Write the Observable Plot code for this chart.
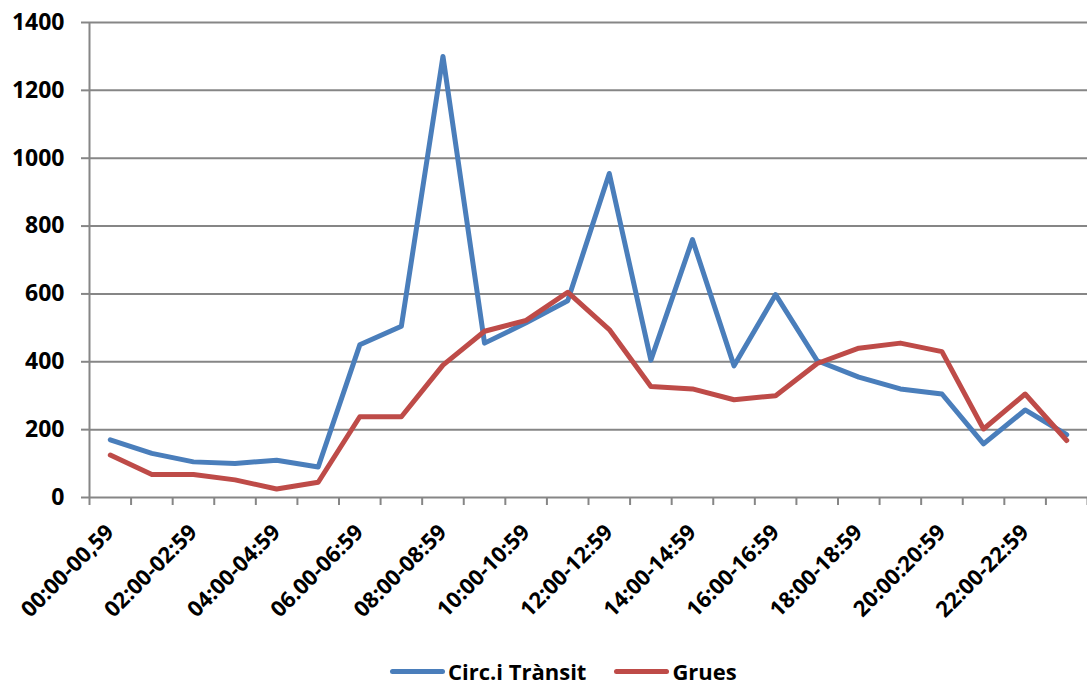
<!DOCTYPE html>
<html>
<head>
<meta charset="utf-8">
<script src="https://cdn.jsdelivr.net/npm/d3@7"></script>
<script src="https://cdn.jsdelivr.net/npm/@observablehq/plot@0.6"></script>
<style>
  html, body { margin: 0; padding: 0; background: #fff; overflow: hidden; }
  #wrap { position: relative; width: 1087px; height: 686px; font-family: "Open Sans", sans-serif; }
  #legend { position: absolute; left: 390px; top: 661px; height: 20px; display: flex; align-items: center; font-weight: bold; font-size: 22px; line-height: 20px; color: #000; }
  .item { display: flex; align-items: center; margin-right: 28px; }
  .sw { width: 55px; height: 5px; border-radius: 3px; margin-right: 3px; }
</style>
</head>
<body>
<div id="wrap"><div id="chart"></div><div id="legend"></div></div>
<script>
const hours = [
  "00:00-00,59", "01:00-01:59", "02:00-02:59", "03:00-03:59",
  "04:00-04:59", "05:00-05:59", "06.00-06:59", "07:00-07:59",
  "08:00-08:59", "09:00-09:59", "10:00-10:59", "11:00-11:59",
  "12:00-12:59", "13:00-13:59", "14:00-14:59", "15:00-15:59",
  "16:00-16:59", "17:00-17:59", "18:00-18:59", "19:00-19:59",
  "20:00:20:59", "21:00-21:59", "22:00-22:59", "23:00-23:59"
];
const transit = [170, 130, 105, 100, 110, 90, 450, 505, 1300, 455, 515, 580,
                 955, 405, 760, 388, 598, 403, 355, 320, 305, 158, 258, 185];
const grues = [125, 68, 68, 52, 25, 45, 238, 238, 390, 490, 522, 605,
               495, 327, 320, 288, 300, 395, 440, 455, 430, 202, 305, 168];
const seriesNames = ["Circ.i Trànsit", "Grues"];
const seriesColors = ["#4a7ebb", "#be4b48"];
const yTicks = [0, 200, 400, 600, 800, 1000, 1200, 1400];

const seriesValues = [transit, grues];
const rows = seriesNames.flatMap((name, s) =>
  seriesValues[s].map((v, i) => ({serie: name, i, hour: hours[i], v})));

const boundaries = d3.range(hours.length + 1);
const labelPos = d3.range(0, hours.length, 2).map(i => i + 0.5);

const chart = Plot.plot({
  width: 1087,
  height: 662,
  marginLeft: 89,
  marginRight: 0,
  marginTop: 22,
  marginBottom: 165,
  style: {fontFamily: "Open Sans, sans-serif", color: "#000", background: "#fff"},
  x: {domain: [0, hours.length], axis: null},
  y: {domain: [0, 1400], axis: null},
  color: {domain: seriesNames, range: seriesColors},
  marks: [
    Plot.ruleY(yTicks, {stroke: "#868686", strokeWidth: 2, strokeOpacity: 1}),
    Plot.ruleX([0], {stroke: "#868686", strokeWidth: 2, strokeOpacity: 1}),
    Plot.axisY(yTicks, {label: null, tickSize: 8, tickPadding: 17, stroke: "#868686", strokeWidth: 2, strokeOpacity: 1,
      fontSize: 23, fontWeight: "bold", fill: "#000", tickFormat: d => String(d)}),
    Plot.axisX(boundaries, {label: null, tickSize: 8, stroke: "#868686", strokeWidth: 2, strokeOpacity: 1, tickFormat: () => ""}),
    Plot.axisX(labelPos, {label: null, tickSize: 0, tickPadding: 31, tickRotate: -45, fontSize: 22, fontWeight: "bold", fill: "#000",
      tickFormat: d => hours[Math.round(d - 0.5)]}),
    Plot.line(rows, {x: d => d.i + 0.5, y: "v", z: "serie", stroke: "serie", strokeWidth: 5,
      strokeLinejoin: "round", strokeLinecap: "round"})
  ]
});
document.getElementById("chart").appendChild(chart);

const legend = document.getElementById("legend");
seriesNames.forEach((name, k) => {
  const item = document.createElement("div");
  item.className = "item";
  const sw = document.createElement("div");
  sw.className = "sw";
  sw.style.background = seriesColors[k];
  const t = document.createElement("span");
  t.textContent = name;
  item.appendChild(sw);
  item.appendChild(t);
  legend.appendChild(item);
});
</script>
</body>
</html>
